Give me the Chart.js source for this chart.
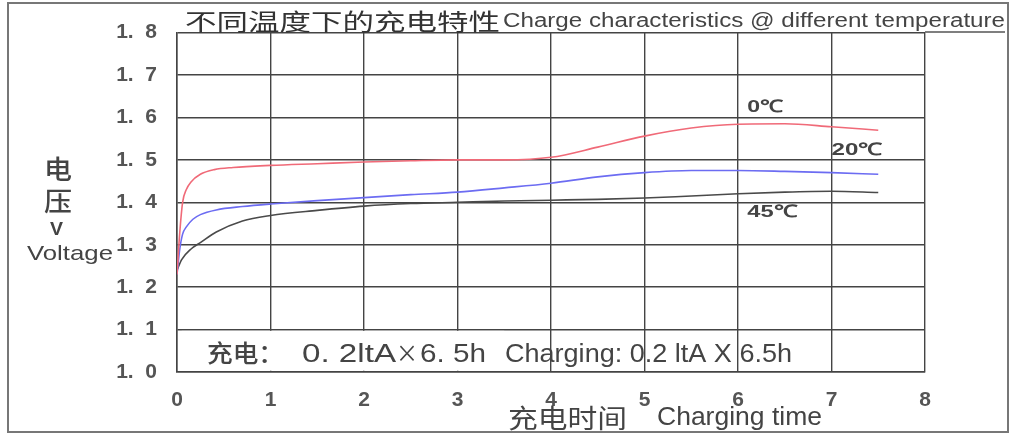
<!DOCTYPE html>
<html>
<head>
<meta charset="utf-8">
<script src="https://cdn.jsdelivr.net/npm/chart.js@4.4.1/dist/chart.umd.min.js"></script>
<style>
  html, body { margin: 0; padding: 0; background: #fff; }
  #wrap { width: 1015px; height: 435px; }
</style>
</head>
<body>
<div id="wrap"><canvas id="charge" width="1015" height="435"></canvas></div>
<script>
// hours / volts
const t0 = [0, 0.03, 0.06, 0.1, 0.15, 0.25, 0.4, 0.6, 1, 1.5, 2, 2.5, 3, 3.5, 4, 4.5, 5, 5.5, 6, 6.5, 7, 7.5];
const v0 = [1.23, 1.33, 1.4, 1.43, 1.448, 1.466, 1.477, 1.482, 1.487, 1.491, 1.495, 1.498, 1.50, 1.50, 1.506, 1.53, 1.556, 1.575, 1.584, 1.585, 1.578, 1.57];
const t20 = [0, 0.03, 0.06, 0.1, 0.17, 0.25, 0.42, 0.7, 1, 1.5, 2, 2.5, 3, 3.5, 4, 4.5, 5, 5.5, 6, 6.5, 7, 7.5];
const v20 = [1.23, 1.29, 1.325, 1.342, 1.36, 1.371, 1.382, 1.39, 1.396, 1.404, 1.411, 1.418, 1.424, 1.434, 1.445, 1.46, 1.47, 1.475, 1.475, 1.473, 1.47, 1.466];
const t45 = [0, 0.05, 0.15, 0.25, 0.42, 0.7, 1, 1.5, 2, 2.5, 3, 3.5, 4, 4.5, 5, 5.5, 6, 6.5, 7, 7.5];
const v45 = [1.24, 1.265, 1.29, 1.305, 1.33, 1.356, 1.369, 1.381, 1.391, 1.397, 1.40, 1.403, 1.405, 1.407, 1.41, 1.415, 1.42, 1.424, 1.426, 1.423];
const curveNames = ["0℃", "20℃", "45℃"];
const curveColors = ["#f06a78", "#6c6cf2", "#4a4a4a"];

function pts(xs, ys) {
  return xs.map((x, i) => ({x: x, y: ys[i]}));
}

const CJK = '"Noto Sans CJK SC", sans-serif';
const LAT = '"Liberation Sans", Arial, sans-serif';

// draw text squeezed/stretched to a given width (the scan is stretched sideways)
function fit(c, text, x, y, w, font) {
  c.font = font;
  const m = c.measureText(text).width;
  c.save();
  c.translate(x, y);
  c.scale(w / m, 1);
  c.fillText(text, 0, 0);
  c.restore();
}

const textPlugin = {
  id: 'texts',
  beforeDatasetsDraw(chart) {
    const c = chart.ctx, x = chart.scales.x, y = chart.scales.y;
    // white box where the note sits, gridlines 1..3 stop there
    c.save();
    c.fillStyle = '#fff';
    c.fillRect(x.getPixelForValue(0.05), y.getPixelForValue(1.097), x.getPixelForValue(3.5) - x.getPixelForValue(0.05), y.getPixelForValue(1.003) - y.getPixelForValue(1.097));
    c.restore();
  },
  afterDraw(chart) {
    const c = chart.ctx, x = chart.scales.x, y = chart.scales.y;
    c.save();
    // outer frame
    c.strokeStyle = '#777';
    c.lineWidth = 2;
    c.strokeRect(8, 3, 1000, 429);
    // title underline
    c.strokeStyle = '#555';
    c.lineWidth = 1.4;
    c.beginPath();
    c.moveTo(x.right, 32);
    c.lineTo(1005, 32);
    c.stroke();

    c.textAlign = 'left';
    c.textBaseline = 'middle';
    c.fillStyle = '#333';
    fit(c, '不同温度下的充电特性', 185, 21, 315, '23px ' + CJK);
    c.textBaseline = 'alphabetic';
    c.fillStyle = '#444';
    fit(c, 'Charge characteristics @ different temperature', 503, 27, 502, '20px ' + LAT);

    // y title
    c.fillStyle = '#444';
    c.textBaseline = 'middle';
    fit(c, '电', 44, 169, 28, '500 26px ' + CJK);
    fit(c, '压', 44, 201, 28, '500 26px ' + CJK);
    fit(c, 'V', 50, 230, 13, 'bold 18px ' + LAT);
    c.textBaseline = 'alphabetic';
    fit(c, 'Voltage', 27, 260, 86, '21px ' + LAT);

    // x title
    c.textBaseline = 'middle';
    fit(c, '充电时间', 508, 418, 119, '26px ' + CJK);
    c.textBaseline = 'alphabetic';
    fit(c, 'Charging time', 657, 425, 165, '25px ' + LAT);

    // charging note
    c.textBaseline = 'middle';
    fit(c, '充电：', 207, 353, 77, '500 24px ' + CJK);
    c.textBaseline = 'alphabetic';
    fit(c, '0. 2ltA', 302, 362, 94, '25px ' + LAT);
    c.textBaseline = 'middle';
    fit(c, '×', 396, 353, 22, '24px ' + CJK);
    c.textBaseline = 'alphabetic';
    fit(c, '6. 5h', 420, 362, 66, '25px ' + LAT);
    fit(c, 'Charging: 0.2 ltA X 6.5h', 505, 362, 287, '26px ' + LAT);

    // curve labels
    c.textBaseline = 'middle';
    c.fillStyle = '#444';
    fit(c, curveNames[0], x.getPixelForValue(6.1), y.getPixelForValue(1.624), 36, 'bold 17px ' + LAT);
    fit(c, curveNames[1], x.getPixelForValue(7.0), y.getPixelForValue(1.522), 51, 'bold 17px ' + LAT);
    fit(c, curveNames[2], x.getPixelForValue(6.1), y.getPixelForValue(1.376), 50, 'bold 17px ' + LAT);
    c.restore();
  }
};

new Chart("charge", {
  type: "line",
  data: {
    datasets: [
      {label: curveNames[0], data: pts(t0, v0), borderColor: curveColors[0]},
      {label: curveNames[1], data: pts(t20, v20), borderColor: curveColors[1]},
      {label: curveNames[2], data: pts(t45, v45), borderColor: curveColors[2]}
    ].map(d => Object.assign(d, {borderWidth: 1.6, pointRadius: 0, fill: false, cubicInterpolationMode: 'monotone'}))
  },
  options: {
    responsive: false,
    animation: false,
    layout: {padding: {left: 0, top: 32, right: 90, bottom: 0}},
    plugins: {legend: {display: false}, tooltip: {enabled: false}},
    scales: {
      x: {
        type: 'linear', min: 0, max: 8,
        afterFit: s => { s.height = 63; },
        ticks: {stepSize: 1, padding: 16, color: '#555', font: {family: LAT, size: 21, weight: 'bold'}},
        grid: {color: '#444', lineWidth: 1.4, drawTicks: false},
        border: {color: '#444', width: 1.5}
      },
      y: {
        type: 'linear', min: 1.0, max: 1.8,
        afterFit: s => { s.width = 177; },
        ticks: {stepSize: 0.1, padding: 20, color: '#555', font: {family: LAT, size: 21, weight: 'bold'},
          callback: v => v.toFixed(1).replace('.', '.  ')},
        grid: {color: '#444', lineWidth: 1.4, drawTicks: false},
        border: {color: '#444', width: 1.5}
      }
    }
  },
  plugins: [textPlugin]
});
</script>
</body>
</html>
